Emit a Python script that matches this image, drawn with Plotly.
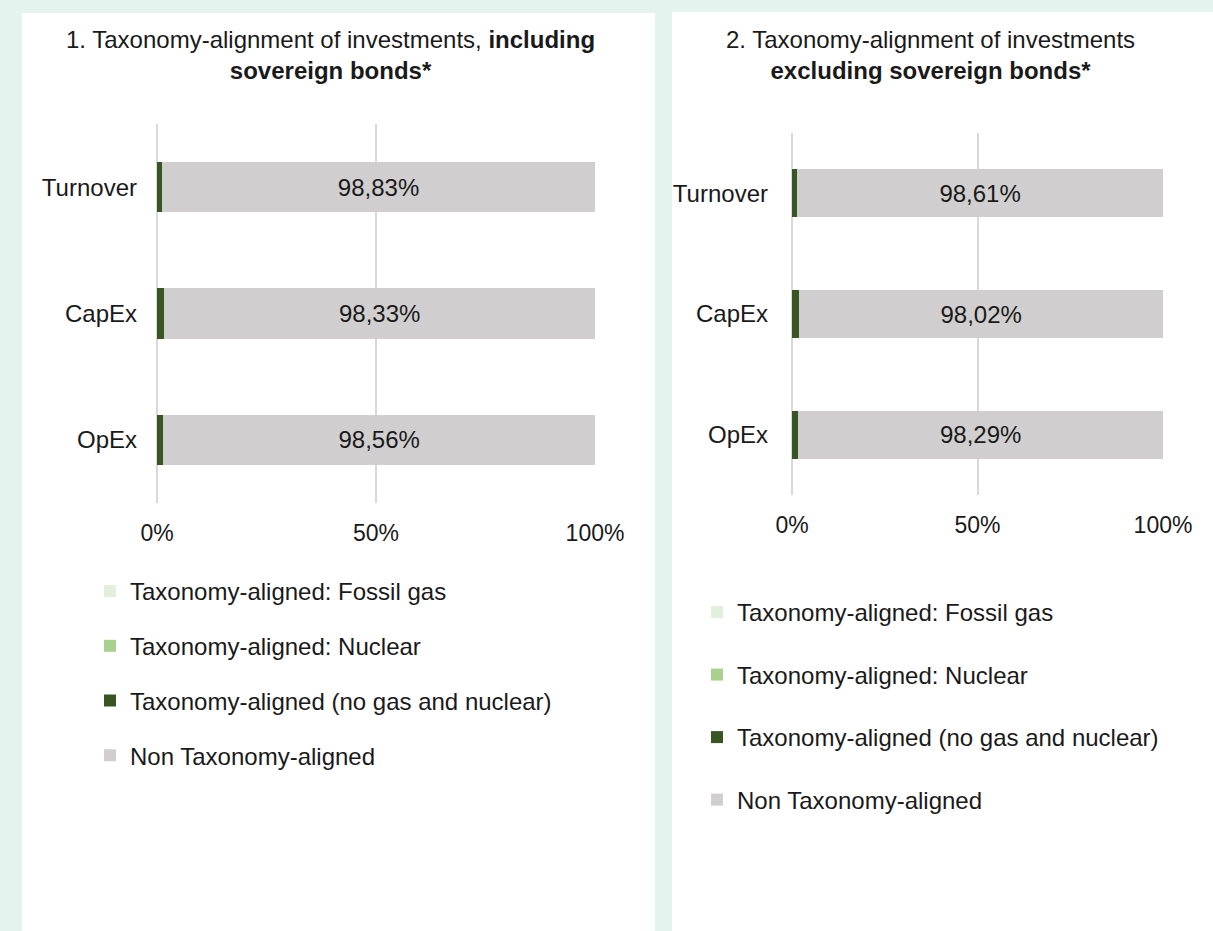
import plotly.graph_objects as go

W, H = 1213, 931

categories = ["Turnover", "CapEx", "OpEx"]
series_names = [
    "Taxonomy-aligned: Fossil gas",
    "Taxonomy-aligned: Nuclear",
    "Taxonomy-aligned (no gas and nuclear)",
    "Non Taxonomy-aligned",
]
colors = ["#e2efda", "#a9d18e", "#375623", "#d0cece"]

# Chart 1: including sovereign bonds
incl_fossil = [0.0, 0.0, 0.0]
incl_nuclear = [0.0, 0.0, 0.0]
incl_aligned = [1.17, 1.67, 1.44]
incl_non = [98.83, 98.33, 98.56]

# Chart 2: excluding sovereign bonds
excl_fossil = [0.0, 0.0, 0.0]
excl_nuclear = [0.0, 0.0, 0.0]
excl_aligned = [1.39, 1.98, 1.71]
excl_non = [98.61, 98.02, 98.29]

x_tickvals = [0, 50, 100]
x_ticktext = ["0%", "50%", "100%"]

FONT = "Arial, 'Liberation Sans', sans-serif"
BG = "#e4f3ee"
TXT = "#1a1a1a"


def px_x(p):
    return p / W


def px_y(p):
    return 1 - p / H


def pct_text(vals):
    return [f"{v:.2f}%".replace(".", ",") for v in vals]


fig = go.Figure()

sets = [
    ("x", "y", "legend", "L", [incl_fossil, incl_nuclear, incl_aligned, incl_non]),
    ("x2", "y2", "legend2", "R", [excl_fossil, excl_nuclear, excl_aligned, excl_non]),
]
for xa, ya, leg, pre, data in sets:
    for i, (name, col, vals) in enumerate(zip(series_names, colors, data)):
        is_non = i == 3
        fig.add_trace(go.Bar(
            y=categories, x=vals, orientation="h", name=name,
            marker=dict(color=col, line=dict(width=0)),
            xaxis=xa, yaxis=ya, legend=leg, legendgroup=f"{pre}{i}",
            text=pct_text(vals) if is_non else None,
            textposition="inside" if is_non else "none",
            insidetextanchor="middle",
            textfont=dict(size=24, color=TXT, family=FONT),
            hoverinfo="x+y+name",
        ))

axis_common_x = dict(
    range=[0, 100], tickvals=x_tickvals, ticktext=x_ticktext,
    showgrid=True, gridcolor="#d9d9d9", gridwidth=1.5,
    zeroline=True, zerolinecolor="#d9d9d9", zerolinewidth=1.5,
    showline=False, ticks="", tickfont=dict(size=23, color=TXT, family=FONT),
    fixedrange=True, automargin=False,
)
axis_common_y = dict(
    autorange="reversed", showgrid=False, zeroline=False, showline=False, ticks="",
    tickfont=dict(size=24, color=TXT, family=FONT), fixedrange=True, automargin=False,
)

legend_common = dict(
    xanchor="left", yanchor="top", bgcolor="rgba(0,0,0,0)",
    font=dict(size=24, color=TXT, family=FONT),
    traceorder="grouped", itemclick=False, itemdoubleclick=False,
)

fig.update_layout(
    width=W, height=H, autosize=False,
    margin=dict(l=0, r=0, t=0, b=0, pad=0),
    paper_bgcolor=BG,
    plot_bgcolor="rgba(0,0,0,0)",
    barmode="stack",
    bargap=0.6,
    font=dict(family=FONT, color=TXT),
    xaxis=dict(domain=[px_x(157), px_x(595)], anchor="y", ticklabelstandoff=14, **axis_common_x),
    yaxis=dict(domain=[px_y(503), px_y(124)], anchor="x", ticklabelstandoff=19, **axis_common_y),
    xaxis2=dict(domain=[px_x(792), px_x(1163)], anchor="y2", ticklabelstandoff=14, **axis_common_x),
    yaxis2=dict(domain=[px_y(495), px_y(133)], anchor="x2", ticklabelstandoff=23, **axis_common_y),
    legend=dict(x=px_x(90), y=px_y(569), tracegroupgap=20.5, **legend_common),
    legend2=dict(x=px_x(697), y=px_y(590), tracegroupgap=28.3, **legend_common),
    shapes=[
        dict(type="rect", xref="paper", yref="paper", x0=px_x(22), x1=px_x(655),
             y0=0, y1=px_y(13), fillcolor="white", line=dict(width=0), layer="below"),
        dict(type="rect", xref="paper", yref="paper", x0=px_x(672), x1=1,
             y0=0, y1=px_y(12), fillcolor="white", line=dict(width=0), layer="below"),
    ],
    annotations=[
        dict(xref="paper", yref="paper", x=px_x(331), y=px_y(55), xanchor="center", yanchor="middle",
             text="1. Taxonomy-alignment of investments, <b>including</b><br><b>sovereign bonds*</b>",
             showarrow=False, font=dict(size=24, color=TXT, family=FONT), align="center"),
        dict(xref="paper", yref="paper", x=px_x(930), y=px_y(55), xanchor="center", yanchor="middle",
             text="2. Taxonomy-alignment of investments<br><b>excluding sovereign bonds*</b>",
             showarrow=False, font=dict(size=24, color=TXT, family=FONT), align="center"),
    ],
)

fig.write_html(
    "out.html",
    config={"displayModeBar": False},
    post_script="document.body.style.margin='0px';document.body.style.background='" + BG + "';"
                "document.body.style.overflow='hidden';",
)
